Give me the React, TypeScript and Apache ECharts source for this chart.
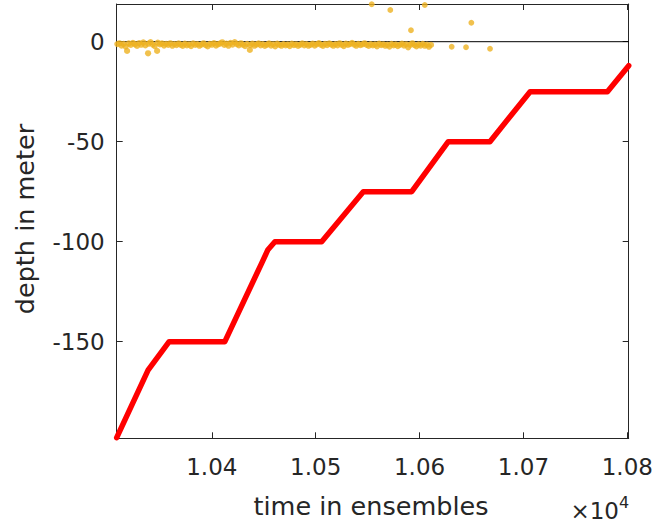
import React, { useEffect, useRef } from "react";
import * as echarts from "echarts";

// Axis ranges
const X_MIN = 10308.4;
const X_MAX = 10801.3;
const Y_MIN = -198.3;
const Y_MAX = 18.85;

// Tick values
const xTickValues = [10400, 10500, 10600, 10700, 10800];
const yTickValues = [-150, -100, -50, 0];

// Red depth profile (vertices of the instrument trajectory)
const profileTime = [10308.4, 10338.6, 10358.9, 10412.5, 10447.9, 10454.0, 10460.7, 10505.7, 10545.8, 10592.4, 10627.6, 10667.7, 10706.4, 10780.8, 10801.3];
const profileDepth = [-198.0, -164.2, -150.0, -150.0, -110.8, -104.0, -100.0, -100.0, -75.0, -75.0, -50.0, -50.0, -25.0, -25.0, -12.0];

// Orange surface readings (dense band near zero)
const surfaceTime = [
  10309, 10311, 10313, 10315, 10317, 10318.4, 10320, 10322, 10324, 10326, 10328, 10330, 10332, 10334, 10336, 10338.6,
  10339, 10341, 10343, 10345, 10347.3, 10348, 10350, 10352, 10354, 10356, 10358, 10360, 10362, 10364, 10366, 10368,
  10370, 10372, 10374, 10376, 10378, 10380, 10382, 10384, 10386, 10388, 10390, 10392, 10394, 10396, 10398, 10400,
  10402, 10404, 10406, 10408, 10410, 10412, 10414, 10416, 10418, 10420, 10422, 10424, 10426, 10428, 10430, 10432,
  10434, 10436.6, 10437, 10439, 10441, 10443, 10445, 10447, 10449, 10451, 10453, 10455, 10457, 10459, 10461, 10463,
  10465, 10467, 10469, 10471, 10473, 10475, 10477, 10479, 10481, 10483, 10485, 10487, 10489, 10491, 10493, 10495,
  10497, 10499, 10501, 10503, 10505, 10507, 10509, 10511, 10513, 10515, 10517, 10519, 10521, 10523, 10525, 10527,
  10529, 10531, 10533, 10535, 10537, 10539, 10541, 10543, 10545, 10547, 10549, 10551, 10553, 10555, 10557, 10559,
  10561, 10563, 10565, 10567, 10569, 10571, 10573, 10575, 10577, 10579, 10581, 10583, 10585, 10587, 10589, 10591,
  10593, 10595, 10597, 10599, 10601, 10603, 10605, 10607, 10609, 10611
];
const surfaceDepth = [
  -1.2, -0.8, -1.9, -1.1, -2.4, -4.6, -0.9, -1.6, -0.6, -1.3, -2.1, -0.7, -1.5, -0.4, -1.8, -5.8,
  -1.0, -0.2, -1.4, -2.2, -4.6, -0.5, -1.3, -0.9, -1.9, -1.1, -1.6, -0.8, -2.0, -1.2, -1.7, -0.9,
  -1.5, -2.1, -1.0, -1.8, -1.3, -2.2, -0.9, -1.6, -1.2, -2.0, -1.4, -0.8, -1.7, -2.3, -1.1, -1.5,
  -0.7, -1.9, -1.3, -0.9, -0.3, -1.6, -1.0, -2.0, -0.6, -1.4, -0.2, -1.2, -1.8, -0.8, -1.5, -2.2,
  -1.1, -4.1, -1.7, -1.0, -2.0, -1.4, -0.9, -1.8, -1.2, -2.1, -1.5, -0.9, -1.9, -1.3, -2.3, -1.0,
  -1.6, -2.0, -1.2, -1.8, -1.4, -2.2, -1.0, -1.7, -1.3, -2.1, -1.5, -0.9, -1.8, -1.2, -2.0, -1.6,
  -1.0, -1.9, -1.3, -0.7, -1.5, -2.1, -1.1, -1.7, -0.9, -1.4, -2.0, -1.2, -1.8, -0.8, -1.5, -2.2,
  -1.0, -1.6, -1.2, -0.6, -1.4, -2.0, -1.1, -1.7, -1.3, -0.8, -1.6, -2.1, -1.2, -1.8, -1.4, -2.3,
  -1.0, -1.7, -1.3, -2.0, -1.5, -2.4, -1.1, -1.8, -1.4, -2.2, -1.6, -1.0, -1.9, -1.3, -2.8, -1.5,
  -0.8, -1.7, -2.3, -1.4, -1.9, -1.1, -2.0, -1.5, -2.5, -1.6
];

// Orange sparse readings after the band
const sparseTime = [10553.9, 10571.8, 10591.7, 10605.0, 10630.9, 10644.7, 10649.8, 10667.8];
const sparseDepth = [18.7, 15.85, 5.7, 18.35, -2.5, -2.8, 9.5, -3.5];

const FONT = "DejaVu Sans";
const TEXT_COLOR = "#262626";

export default function App() {
  const ref = useRef<HTMLDivElement>(null);

  useEffect(() => {
    if (!ref.current) return;
    const chart = echarts.init(ref.current, null, { renderer: "svg" });

    const profileData = profileTime.map((t, i) => [t, profileDepth[i]]);
    const surfaceData = surfaceTime.map((t, i) => [t, surfaceDepth[i]]);
    const sparseData = sparseTime.map((t, i) => [t, sparseDepth[i]]);

    const axisLineStyle = { color: TEXT_COLOR, width: 1 };

    const option: any = {
      animation: false,
      backgroundColor: "#ffffff",
      grid: {
        left: 116.7,
        right: 666 - 628.7,
        top: 4,
        bottom: 527 - 438.3,
        containLabel: false,
        outerBoundsMode: "none",
      },
      xAxis: [
        {
          type: "value",
          min: X_MIN,
          max: X_MAX,
          position: "bottom",
          axisLine: { show: true, onZero: false, lineStyle: axisLineStyle },
          axisTick: { show: true, inside: true, length: 6, customValues: xTickValues, lineStyle: axisLineStyle },
          axisLabel: {
            show: true,
            customValues: xTickValues,
            formatter: (v: number) => (v / 10000).toFixed(2),
            fontFamily: FONT,
            fontSize: 23,
            color: TEXT_COLOR,
            margin: 17,
          },
          splitLine: { show: false },
        },
        {
          type: "value",
          min: X_MIN,
          max: X_MAX,
          position: "top",
          axisLine: { show: true, onZero: false, lineStyle: axisLineStyle },
          axisTick: { show: true, inside: true, length: 6, customValues: xTickValues, lineStyle: axisLineStyle },
          axisLabel: { show: false },
          splitLine: { show: false },
        },
      ],
      yAxis: [
        {
          type: "value",
          min: Y_MIN,
          max: Y_MAX,
          position: "left",
          axisLine: { show: true, onZero: false, lineStyle: axisLineStyle },
          axisTick: { show: true, inside: true, length: 6, customValues: yTickValues, lineStyle: axisLineStyle },
          axisLabel: {
            show: true,
            customValues: yTickValues,
            fontFamily: FONT,
            fontSize: 23,
            color: TEXT_COLOR,
            margin: 12,
          },
          splitLine: { show: false },
        },
        {
          type: "value",
          min: Y_MIN,
          max: Y_MAX,
          position: "right",
          axisLine: { show: true, onZero: false, lineStyle: axisLineStyle },
          axisTick: { show: true, inside: true, length: 6, customValues: yTickValues, lineStyle: axisLineStyle },
          axisLabel: { show: false },
          splitLine: { show: false },
        },
      ],
      series: [
        {
          name: "zero",
          type: "line",
          xAxisIndex: 0,
          yAxisIndex: 0,
          data: [
            [X_MIN, 0],
            [X_MAX, 0],
          ],
          showSymbol: false,
          symbol: "none",
          lineStyle: { color: "#000000", width: 1 },
          z: 1,
          silent: true,
        },
        {
          name: "surface",
          type: "scatter",
          xAxisIndex: 0,
          yAxisIndex: 0,
          data: surfaceData,
          symbol: "circle",
          symbolSize: 6.2,
          itemStyle: { color: "#EDB120" },
          z: 3,
        },
        {
          name: "sparse",
          type: "scatter",
          xAxisIndex: 0,
          yAxisIndex: 0,
          data: sparseData,
          symbol: "circle",
          symbolSize: 5.8,
          itemStyle: { color: "#EDB120" },
          z: 3,
        },
        {
          name: "profile",
          type: "line",
          xAxisIndex: 0,
          yAxisIndex: 0,
          data: profileData,
          showSymbol: false,
          symbol: "none",
          lineStyle: { color: "#ff0000", width: 5.5, cap: "round", join: "round" },
          clip: true,
          z: 4,
        },
      ],
      graphic: [
        {
          type: "text",
          x: 371,
          y: 506,
          style: {
            text: "time in ensembles",
            fontFamily: FONT,
            fontSize: 25.5,
            fill: TEXT_COLOR,
            align: "center",
            verticalAlign: "middle",
          },
        },
        {
          type: "text",
          x: 25,
          y: 219,
          rotation: Math.PI / 2,
          style: {
            text: "depth in meter",
            fontFamily: FONT,
            fontSize: 25.5,
            fill: TEXT_COLOR,
            align: "center",
            verticalAlign: "middle",
          },
        },
        {
          type: "text",
          x: 619,
          y: 510.5,
          style: {
            text: "×10",
            fontFamily: FONT,
            fontSize: 23,
            fill: TEXT_COLOR,
            align: "right",
            verticalAlign: "middle",
          },
        },
        {
          type: "text",
          x: 619,
          y: 502.5,
          style: {
            text: "4",
            fontFamily: FONT,
            fontSize: 16,
            fill: TEXT_COLOR,
            align: "left",
            verticalAlign: "middle",
          },
        },
      ],
    };

    chart.setOption(option);
    return () => {
      chart.dispose();
    };
  }, []);

  return (
    <div
      ref={ref}
      style={{ position: "absolute", left: 0, top: 0, width: 666, height: 527, background: "#ffffff" }}
    />
  );
}
